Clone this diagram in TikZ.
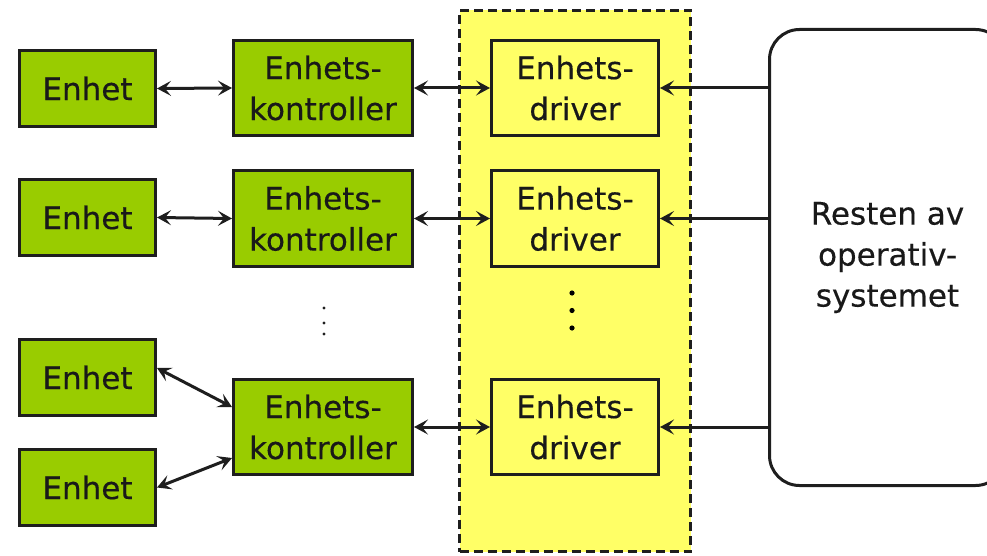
\documentclass[tikz,border=0pt]{standalone}
\usepackage{fontspec}
\setmainfont[RawFeature={embolden=0.35}]{DejaVu Sans}
\usetikzlibrary{arrows.meta}
\definecolor{devgreen}{HTML}{99CC00}
\definecolor{drvyellow}{HTML}{FFFF66}
\definecolor{edgecol}{HTML}{1E1E1E}
\begin{document}
\begin{tikzpicture}[x=1pt,y=1pt,
  dev/.style={draw=edgecol, line width=3pt, fill=devgreen, inner sep=0pt,
    minimum width=136pt, minimum height=76pt, align=center, text=black!90,
    font=\fontsize{31}{41}\selectfont},
  ctrl/.style={dev, minimum width=179pt, minimum height=95pt},
  drv/.style={ctrl, fill=drvyellow, minimum width=167pt},
  link/.style={draw=edgecol, line width=3pt, {Stealth[length=14pt, width=15pt, inset=6pt]}-{Stealth[length=14pt, width=15pt, inset=6pt]}},
  feed/.style={draw=edgecol, line width=3pt, -{Stealth[length=14pt, width=15pt, inset=6pt]}}
]
\path[use as bounding box] (0,0) rectangle (987,-556);
\clip (0,0) rectangle (987,-556);

% driver layer (dashed yellow band)
\node[draw=edgecol, fill=drvyellow, line width=3pt, dash pattern=on 9pt off 5pt,
  minimum width=231pt, minimum height=541pt, inner sep=0pt] (layer) at (575,-281) {};

% rest of the operating system
\node[draw=edgecol, line width=3pt, rounded corners=30pt, fill=white,
  minimum width=236pt, minimum height=456pt, inner sep=0pt, align=center, text=black!90,
  font=\fontsize{31}{41}\selectfont] (os) at (887.5,-257.5) {Resten av\\operativ-\\systemet};

% devices
\node[dev] (e1) at (87.5,-88.5) {Enhet};
\node[dev] (e2) at (87.5,-217.5) {Enhet};
\node[dev] (e3) at (87.5,-377.5) {Enhet};
\node[dev] (e4) at (87.5,-487.5) {Enhet};

% controllers
\node[ctrl] (k1) at (323,-88) {Enhets-\\kontroller};
\node[ctrl] (k2) at (323,-218.5) {Enhets-\\kontroller};
\node[ctrl] (k3) at (323,-427) {Enhets-\\kontroller};

% drivers
\node[drv] (d1) at (575,-88) {Enhets-\\driver};
\node[drv] (d2) at (575,-218.5) {Enhets-\\driver};
\node[drv] (d3) at (575,-427) {Enhets-\\driver};

% device <-> controller
\draw[link] (e1.east) -- (k1.west);
\draw[link] (e2.east) -- (k2.west);
\draw[link] ([yshift=9.5pt]e3.east) -- ([yshift=20pt]k3.west);
\draw[link] (e4.east) -- ([yshift=-31pt]k3.west);

% controller <-> driver
\draw[link] (k1.east) -- (d1.west);
\draw[link] (k2.east) -- (d2.west);
\draw[link] (k3.east) -- (d3.west);

% operating system -> driver
\draw[feed] (os.west |- d1.east) -- (d1.east);
\draw[feed] (os.west |- d2.east) -- (d2.east);
\draw[feed] (os.west |- d3.east) -- (d3.east);

% ellipsis between rows
\fill[edgecol] (324,-308) circle (1.7) (324,-323) circle (1.7) (324,-334) circle (1.7);
\fill[black] (572,-293) circle (2.6) (572,-310.5) circle (2.6) (572,-328) circle (2.6);
\end{tikzpicture}
\end{document}
